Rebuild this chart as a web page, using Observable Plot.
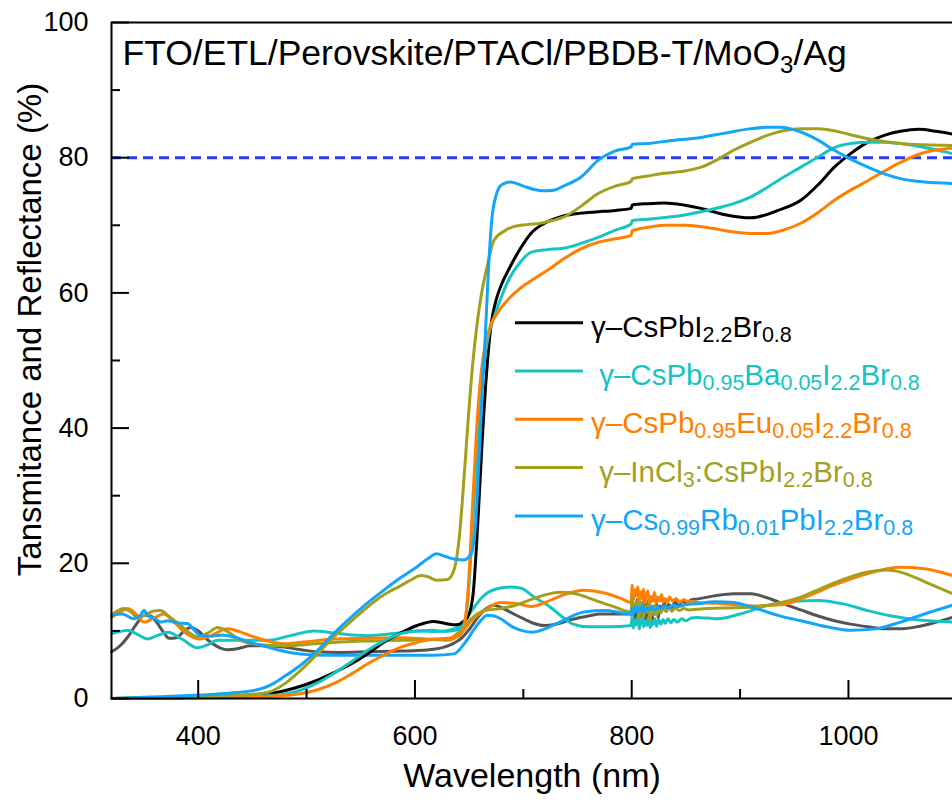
<!DOCTYPE html>
<html><head><meta charset="utf-8">
<script src="https://cdn.jsdelivr.net/npm/d3@7"></script>
<script src="https://cdn.jsdelivr.net/npm/@observablehq/plot@0.6"></script>
<style>
html,body{margin:0;padding:0;background:#fff;overflow:hidden}
svg text{font-family:"Liberation Sans",Arial,sans-serif}
</style></head><body><div id="chart"></div>
<script>
// ---- axes / ticks ----
const xDomain = [320, 1096];
const yDomain = [0, 100];
const xTicksMajor = [400, 600, 800, 1000];
const xTicksMinor = [500, 700, 900];
const yTicksMajor = [0, 20, 40, 60, 80, 100];
const yTicksMinor = [10, 30, 50, 70, 90];
const referenceLevel = [80];

const titleText = "FTO/ETL/Perovskite/PTACl/PBDB-T/MoO_{3}/Ag";
const xLabel = "Wavelength (nm)";
const yLabel = "Tansmitance and Reflectance (%)";

// ---- series (legend labels, colours) ----
const seriesLabels = [
  "γ–CsPbI_{2.2}Br_{0.8}",
  "\u00A0γ–CsPb_{0.95}Ba_{0.05}I_{2.2}Br_{0.8}",
  "γ–CsPb_{0.95}Eu_{0.05}I_{2.2}Br_{0.8}",
  "\u00A0γ–InCl_{3}:CsPbI_{2.2}Br_{0.8}",
  "γ–Cs_{0.99}Rb_{0.01}PbI_{2.2}Br_{0.8}"
];
const seriesColors = ["#000000", "#17c4c4", "#ff8000", "#a3a01e", "#13a5f7"];
const reflectColors = ["#555555", "#17c4c4", "#ff8000", "#a3a01e", "#13a5f7"];

// ---- transmittance [wavelength nm, %] ----
const tBlack = [[320,0],[360,0.05],[400,0.2],[430,0.4],[464,0.7],[490,1.6],[510,2.7],[525,3.8],[541,5.1],[556,6.6],[571,8.3],[587,9.7],[602,10.8],[617,11.4],[628,11.1],[638,10.9],[645,11.4],[650,12.5],[654,16],[658,26],[662,38],[666,48],[670,55],[675,59],[680,61.3],[686,63.3],[697,66.5],[707,68.8],[722,70.5],[737,71.4],[753,71.8],[769,72.0],[785,72.2],[799.5,72.5],[800.5,73.0],[815,73.2],[830,73.3],[848,73.0],[864,72.5],[885,71.6],[910,71.1],[935,72.2],[956,73.7],[972,76],[987,78.6],[1002,80.6],[1018,82.3],[1033,83.3],[1048,83.9],[1065,84.2],[1081,83.9],[1096,83.5]];
const tCyan = [[320,0],[400,0.1],[440,0.25],[464,0.4],[494,1.2],[510,2.3],[525,3.7],[541,5.4],[556,7.1],[571,8.5],[587,9.6],[602,10.0],[617,10.1],[627,9.9],[640,10.2],[645,11],[649,15],[653,25],[657,36],[661,45],[665,51],[669,54.5],[673,56.4],[680,59.5],[686,61.8],[697,64.5],[707,66.0],[722,66.4],[737,66.6],[753,67.3],[769,68.2],[785,69.3],[799.5,70.2],[800.5,70.7],[815,70.9],[833,71.2],[848,71.5],[864,72.0],[880,72.6],[894,73.2],[910,74.2],[925,75.6],[940,77.1],[956,78.6],[972,80.1],[987,81.5],[1002,82.1],[1018,82.3],[1033,82.3],[1048,82.1],[1070,81.5],[1096,80.6]];
const tOrange = [[320,0],[400,0.1],[440,0.2],[464,0.3],[494,0.7],[510,1.3],[525,2.2],[541,3.6],[556,5.1],[571,6.4],[587,7.6],[602,8.3],[617,8.8],[630,8.9],[640,9.2],[645,10.5],[649,16],[653,28],[657,40],[661,48],[665,52.5],[670,55.3],[676,57.0],[687,59.2],[698,60.8],[710,62.1],[722,63.3],[737,65.0],[753,66.5],[769,67.5],[785,68.0],[799.5,68.5],[800.5,69.2],[815,69.7],[830,70.0],[848,70.0],[864,69.8],[880,69.4],[894,69.0],[910,68.8],[925,68.8],[940,69.3],[956,70.3],[972,71.9],[987,73.7],[1002,75.2],[1018,76.6],[1033,78.0],[1048,79.3],[1063,80.4],[1079,81.1],[1096,81.4]];
const tOlive = [[320,0],[400,0.3],[440,0.5],[464,0.9],[480,2.2],[494,4.1],[510,6.6],[525,9.1],[541,11.4],[556,13.5],[571,15.3],[587,16.7],[597,17.6],[605,18.2],[612,18.0],[620,17.5],[630,17.6],[636,19],[641,24],[645,32],[649,41],[653,49],[657,55],[661,59.5],[666,63.5],[673,67.8],[683,69.2],[691,69.8],[703,70.1],[716,70.3],[727,70.7],[737,71.2],[753,72.8],[769,74.7],[785,75.8],[799.5,76.5],[800.5,76.9],[815,77.3],[830,77.7],[848,78.0],[864,78.6],[880,79.8],[894,81.1],[910,82.3],[925,83.3],[940,84.0],[956,84.3],[972,84.3],[987,84.0],[1002,83.4],[1018,82.8],[1033,82.4],[1048,82.1],[1070,81.9],[1096,81.8]];
const tBlue = [[320,0],[400,0.5],[430,0.8],[457,1.4],[468,2.1],[479,3.2],[495,5.0],[510,7.1],[525,9.6],[541,12.0],[556,14.1],[571,16.0],[587,17.9],[602,19.5],[612,20.7],[620,21.4],[628,21.0],[637,20.6],[645,20.5],[652,21.5],[656,26],[659,35],[662,45],[665,54],[668,64],[671,71],[675,74.5],[680,76],[688,76.4],[700,75.8],[710,75.3],[719,75.1],[728,75.2],[737,75.8],[753,77.1],[769,79.6],[785,81.0],[799.5,81.6],[800.5,82.0],[815,82.1],[835,82.5],[864,83.0],[885,83.6],[910,84.3],[925,84.5],[937,84.5],[956,83.8],[972,82.6],[987,81.1],[1002,79.8],[1018,78.6],[1033,77.6],[1048,76.9],[1070,76.4],[1096,76.2]];

// ---- reflectance [wavelength nm, %] ----
const rGray = [[320,6.9],[328,7.8],[335,9.1],[343,11.0],[350,12.3],[356,12.2],[362,11.2],[368,9.8],[373,8.9],[380,9.0],[387,10.0],[393,10.5],[400,10.0],[410,8.5],[420,7.5],[427,7.2],[437,7.4],[448,7.8],[460,7.8],[479,7.6],[495,7.2],[510,6.9],[530,6.8],[556,6.9],[580,7.0],[602,7.1],[617,7.3],[627,7.6],[636,8.2],[642,8.8],[650,10.2],[658,12.0],[665,13.2],[673,13.8],[679,13.5],[690,12.6],[700,11.8],[710,11.1],[719,10.8],[730,11.0],[745,11.7],[760,12.2],[771,12.5],[785,12.5],[799.5,12.5],[800.5,14.5],[801.5,12.4],[802.5,13.8],[803.5,11.6],[805,14.6],[806.5,12.9],[807.5,14.0],[809,12.1],[810,13.5],[811.5,14.6],[813,11.3],[814,13.2],[815.5,14.4],[817,12.8],[818.5,10.9],[820,13.6],[821.5,12.5],[823,14.2],[824.5,11.9],[826,13.7],[828,13.1],[830,14.3],[832,12.9],[834,13.9],[837,13.4],[840,14.3],[843,13.7],[847,14.4],[851,14.1],[855,14.6],[860,14.7],[877,15.2],[894,15.5],[910,15.5],[925,14.9],[940,14.0],[956,13.1],[972,12.2],[987,11.5],[1002,11.0],[1018,10.6],[1033,10.3],[1048,10.3],[1063,10.6],[1079,11.2],[1096,12.0]];
const rCyan = [[320,9.6],[328,9.9],[335,10.1],[344,9.5],[353,8.8],[362,9.3],[372,9.8],[385,8.8],[399,7.5],[408,7.9],[418,8.6],[440,8.6],[464,8.6],[485,9.3],[507,10.0],[530,9.6],[556,9.3],[580,9.6],[602,10.0],[620,9.9],[636,10.3],[645,11.4],[655,13.6],[664,15.3],[675,16.2],[688,16.5],[698,16.3],[710,15.0],[725,13.5],[735,12.2],[746,11.0],[760,10.6],[780,10.6],[799.5,10.8],[800.5,12.3],[801.5,10.4],[803,11.6],[804,10.9],[805.5,12.0],[807,10.3],[808,11.3],[809.5,11.9],[811,10.6],[812.5,11.5],[814,10.8],[815.5,11.9],[817,10.5],[818.5,11.4],[820,11.0],[821.5,11.8],[823,10.7],[825,11.6],[827,11.0],[829,11.7],[831,11.1],[833.5,11.8],[836,11.2],[839,11.7],[842,11.3],[846,11.8],[850,11.5],[855,11.9],[860,12.0],[879,11.8],[900,12.5],[926,13.8],[950,14.4],[972,14.5],[995,14.0],[1018,13.0],[1040,12.2],[1065,11.6],[1096,11.3]];
const rOrange = [[320,12.0],[328,12.8],[335,13.3],[342,12.6],[350,11.3],[358,11.8],[368,12.5],[375,11.8],[381,10.8],[390,9.5],[402,8.8],[413,9.4],[427,10.3],[438,9.9],[448,9.3],[462,8.6],[479,8.1],[500,8.4],[525,8.8],[556,8.9],[587,9.0],[610,8.8],[630,8.6],[642,9.6],[652,11.5],[664,13.0],[679,14.2],[695,14.0],[708,13.6],[720,14.2],[735,15.2],[756,16.0],[775,15.6],[790,14.8],[799.5,14.2],[800.5,16.8],[801.5,14.6],[803,16.1],[804,15.2],[805.5,16.5],[807,13.9],[808,15.8],[809.5,14.8],[811,16.2],[812,14.0],[813.5,15.3],[815,15.9],[816.5,13.8],[818,15.1],[819.5,14.4],[821,15.7],[822.5,14.1],[824,15.0],[826,14.4],[827.5,15.4],[829,14.2],[831,14.8],[833,14.3],[835,15.0],[838,14.4],[841,14.8],[844,14.2],[848,14.6],[852,14.3],[856,14.4],[860,14.2],[877,14.1],[894,13.9],[915,13.7],[940,13.9],[960,15.0],[987,16.8],[1018,18.5],[1048,19.4],[1070,19.2],[1096,18.2]];
const rOlive = [[320,12.3],[326,13.0],[331,13.3],[338,12.8],[344,12.0],[352,12.4],[358,12.9],[365,13.0],[374,12.0],[384,10.8],[392,9.7],[399,9.1],[408,9.6],[418,10.5],[428,9.8],[439,8.6],[455,8.0],[479,7.8],[500,8.0],[525,8.3],[556,8.5],[587,8.6],[610,8.7],[630,8.8],[642,10.0],[652,11.8],[664,13.0],[679,13.3],[695,13.9],[710,14.8],[722,15.4],[734,15.7],[748,15.5],[765,14.6],[785,13.5],[799.5,12.8],[800.5,14.9],[801.5,12.6],[803,14.1],[804,12.9],[805.5,14.4],[807,11.8],[808,13.3],[809.5,14.2],[811,12.0],[812.5,13.6],[814,12.7],[815.5,14.0],[817,11.6],[818.5,13.2],[820,12.5],[821.5,13.8],[823,12.3],[825,13.4],[827,12.7],[829,13.6],[831,12.9],[834,13.5],[837,12.9],[840,13.4],[844,13.0],[848,13.3],[853,13.1],[860,13.2],[885,13.4],[910,13.5],[935,14.1],[956,15.0],[975,16.3],[995,17.6],[1018,18.7],[1035,19.0],[1048,18.7],[1070,17.3],[1096,15.5]];
const rBlue = [[320,12.3],[330,12.5],[340,11.8],[346,12.2],[350,13.0],[354,12.2],[360,11.8],[366,11.3],[372,11.5],[380,11.2],[390,11.1],[396,10.2],[402,9.3],[412,9.2],[422,9.4],[433,9.1],[448,8.3],[464,7.6],[479,7.0],[494,6.6],[520,6.4],[556,6.4],[590,6.4],[617,6.4],[636,6.6],[645,8.0],[654,10.1],[661,11.6],[667,12.3],[673,12.2],[679,11.8],[690,10.6],[700,10.0],[708,9.8],[720,10.3],[735,11.4],[756,12.8],[775,13.0],[790,12.7],[799.5,12.5],[800.5,13.3],[802,12.8],[803.5,13.7],[805,12.7],[807,13.5],[808.5,12.9],[810,13.8],[812,12.8],[814,13.4],[816,13.1],[818,13.7],[821,13.0],[824,13.6],[827,13.2],[830,13.7],[834,13.4],[838,13.8],[843,13.6],[850,13.9],[860,14.0],[877,14.3],[894,14.2],[915,13.3],[935,12.3],[956,11.5],[980,10.6],[1002,10.1],[1025,10.3],[1048,11.3],[1070,12.5],[1096,13.8]];

const transSeries = [tBlack, tCyan, tOrange, tOlive, tBlue];
const reflSeries = [rGray, rCyan, rOrange, rOlive, rBlue];

// ---- layout ----
const W = 952, H = 809;
const mL = 111, mR = 0, mT = 22, mB = 111;
const plotW = W - mL - mR, plotH = H - mT - mB;
const FONT = "'Liberation Sans', Arial, sans-serif";

const lineMark = (data, color) => Plot.line(data, {
  x: d => d[0], y: d => d[1], stroke: color, strokeWidth: 3,
  curve: "monotone-x", strokeLinejoin: "round", strokeLinecap: "round"
});

const chart = Plot.plot({
  width: W, height: H,
  marginLeft: mL, marginRight: mR, marginTop: mT, marginBottom: mB,
  style: {fontFamily: FONT, background: "#fff", color: "#000"},
  x: {domain: xDomain},
  y: {domain: yDomain},
  marks: [
    Plot.ruleY(referenceLevel, {stroke: "#2a3af2", strokeWidth: 3, strokeDasharray: "10,6"}),
    ...reflSeries.map((s, i) => lineMark(s, reflectColors[i])),
    ...transSeries.map((s, i) => lineMark(s, seriesColors[i])),
    // frame (left, bottom, top)
    Plot.ruleX([xDomain[0]], {stroke: "#000", strokeWidth: 2}),
    Plot.ruleY([yDomain[0], yDomain[1]], {stroke: "#000", strokeWidth: 2}),
    // inward ticks
    Plot.tickX(xTicksMajor, {x: d => d, insetTop: plotH - 18, stroke: "#000", strokeWidth: 2}),
    Plot.tickX(xTicksMinor, {x: d => d, insetTop: plotH - 9, stroke: "#000", strokeWidth: 2}),
    Plot.tickY(yTicksMajor, {y: d => d, insetRight: plotW - 18, stroke: "#000", strokeWidth: 2}),
    Plot.tickY(yTicksMinor, {y: d => d, insetRight: plotW - 9, stroke: "#000", strokeWidth: 2}),
    Plot.axisX(xTicksMajor, {tickSize: 0, tickPadding: 27, fontSize: 27, label: null, tickFormat: d => String(d)}),
    Plot.axisY(yTicksMajor, {tickSize: 0, tickPadding: 23, fontSize: 27, label: null, tickFormat: d => String(d)}),
    Plot.text([xLabel], {frameAnchor: "bottom", dy: 88, fontSize: 34, textAnchor: "middle"}),
    Plot.text([yLabel], {frameAnchor: "left", dx: -81, dy: -31, rotate: -90, fontSize: 33, textAnchor: "middle"}),
    Plot.text([titleText], {frameAnchor: "top-left", dx: 11, dy: 17, lineAnchor: "top", textAnchor: "start", fontSize: 35.5})
  ]
});

// rich text (subscripts) helper
function richText(sel, str, subSize, shift) {
  const parts = str.split(/(_\{[^}]*\})/).filter(s => s.length);
  sel.text(null);
  let prevSub = false;
  for (const p of parts) {
    if (p.startsWith("_{")) {
      sel.append("tspan").attr("dy", prevSub ? 0 : shift).attr("font-size", subSize).text(p.slice(2, -1));
      prevSub = true;
    } else {
      const t = sel.append("tspan").text(p);
      if (prevSub) t.attr("dy", -shift);
      prevSub = false;
    }
  }
}

const svg = d3.select(chart);
svg.selectAll("text").each(function () {
  const s = this.textContent;
  if (s && s.includes("_{")) richText(d3.select(this), s, 24, 8);
});

// legend
const lg = svg.append("g").attr("class", "legend").attr("text-anchor", "start");
const rowY0 = 322.7, rowStep = 48.3;
seriesLabels.forEach((lab, i) => {
  const y = rowY0 + i * rowStep;
  lg.append("line").attr("x1", 515).attr("x2", 583).attr("y1", y).attr("y2", y)
    .attr("stroke", seriesColors[i]).attr("stroke-width", 3);
  const t = lg.append("text").attr("x", 591).attr("y", y + 14)
    .attr("text-anchor", "start")
    .attr("fill", seriesColors[i]).attr("font-size", 29.5)
    .style("white-space", "pre");
  richText(t, lab, 21.5, 5);
});

document.getElementById("chart").appendChild(chart);
</script></body></html>
